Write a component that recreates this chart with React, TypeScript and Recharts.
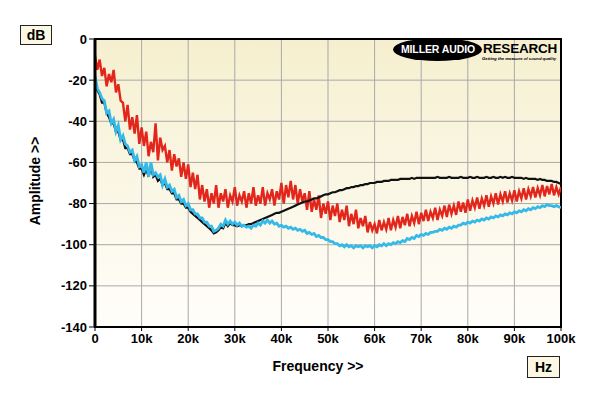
import React from 'react';
import { LineChart, Line, XAxis, YAxis, CartesianGrid, ReferenceArea } from 'recharts';

// Frequency grid in kHz (0 .. 100 kHz, FFT bins every 0.5 kHz)
const FREQ_KHZ: number[] = Array.from({ length: 201 }, (_, i) => i / 2);

const X_TICKS = [0, 10, 20, 30, 40, 50, 60, 70, 80, 90, 100];
const Y_TICKS = [0, -20, -40, -60, -80, -100, -120, -140];

// Red trace (dB)
const RED_DB = [
  -8, -15, -10, -18, -14, -23, -17, -21, -15, -26,
  -22, -30, -31, -40, -32, -44, -38, -46, -37, -51,
  -43, -52, -45, -57, -50, -55, -41, -59, -48, -54,
  -52, -60, -54, -64, -56, -62, -58, -67, -60, -68,
  -61, -72, -65, -73, -66, -78, -71, -79, -73, -82,
  -75, -80, -71, -82, -75, -79, -73, -82, -76, -79,
  -72, -81, -76, -79, -74, -82, -75, -80, -72, -81,
  -76, -80, -72, -81, -75, -78, -73, -81, -74, -78,
  -70, -80, -71, -77, -69, -78, -71, -80, -73, -79,
  -75, -83, -74, -84, -78, -83, -76, -87, -80, -85,
  -79, -88, -81, -86, -80, -89, -83, -88, -81, -91,
  -85, -90, -83, -92, -87, -91, -86, -94, -89, -93,
  -90, -94.5, -88, -93, -89, -92.5, -87, -93, -88, -91.5,
  -86, -92, -86.5, -90.5, -85, -91, -86, -89.5, -84, -90,
  -84.5, -88.5, -83, -88.5, -84, -87, -82, -88, -83, -86,
  -81, -86.5, -80.5, -85, -81, -85.5, -79, -84, -79.5, -84.5,
  -78, -83.5, -78.5, -82, -77, -82.5, -77.5, -81, -76, -81.5,
  -76.5, -80, -75, -80.5, -75.5, -79, -74, -79.5, -75, -78.5,
  -73.5, -79, -74, -77.5, -72.5, -78, -73, -76.5, -72, -77,
  -72.5, -76, -71, -76.5, -71.5, -75.5, -70.5, -76, -72, -75.5,
  -72,
];

// Cyan trace (dB)
const CYAN_DB = [
  -18, -24, -26, -29, -30, -36, -35, -41, -39, -45,
  -42, -49, -47, -51, -52, -55, -54, -59, -57, -62,
  -61, -65, -60, -67, -60, -66, -65, -67, -66, -71,
  -68, -72, -71, -74, -73, -77, -76, -79, -78, -81,
  -80, -83, -83, -85, -85, -87, -87, -89, -89, -91,
  -91, -93.5, -93, -92, -90, -91, -88, -90, -88.5, -90,
  -89, -90.5, -89.5, -91, -90.5, -91.5, -91, -92, -90.5, -91,
  -89.5, -90.5, -88.5, -89.5, -88, -89.5, -88.5, -90, -89.5, -91,
  -90.5, -91.5, -91, -92, -91.5, -92.5, -92, -93, -92.5, -93.5,
  -93, -94.5, -94, -95, -94.5, -96, -95.5, -96.5, -96.5, -97.5,
  -97.5, -98.5, -98.5, -99.5, -99.5, -100.5, -100, -101, -100, -101,
  -100.5, -101.5, -100.5, -101, -100.5, -101.5, -100.5, -101, -100.5, -101.5,
  -100.5, -101, -100, -100.5, -99.5, -100.5, -99.5, -100, -99, -99.5,
  -98.5, -99, -98, -98.5, -97, -97.5, -96.5, -97, -95.5, -96,
  -95, -95.5, -94.5, -95, -94, -94, -93.5, -93.5, -92.5, -93,
  -92, -92.5, -91.5, -92, -91, -91.5, -90.5, -90.5, -89.5, -90,
  -89, -89.5, -88.5, -89, -88, -88.5, -87.5, -88, -87, -87.5,
  -86.5, -87, -86, -86.5, -85.5, -86, -85, -85.5, -84.5, -85,
  -84, -84.5, -83.5, -84, -83, -83.5, -82.5, -83, -82, -82.5,
  -81.5, -82, -81, -81.5, -80.5, -81, -81, -81.5, -81, -81.5,
  -82,
];

// Black trace (dB)
const BLACK_DB = [
  -20, -25, -27, -31, -31, -36, -38, -41, -41, -45,
  -45, -49, -49, -53, -53, -56, -56, -59, -60, -63,
  -63, -66, -63, -67, -62, -67, -66, -69, -68, -71,
  -70, -73, -73, -75, -75, -78, -78, -80, -80, -82,
  -82, -84, -85, -86, -87, -88, -89, -90, -91, -92,
  -93, -94.5, -94, -93, -91.5, -92, -89.5, -91, -89.5, -90.5,
  -90.5, -91, -90.5, -91, -90.5, -90.5, -90, -90, -89.5, -89,
  -88.5, -88, -87.5, -87, -86.5, -86, -85.5, -85, -84.5, -84.5,
  -84, -83.5, -83, -82.5, -82, -81.5, -81, -80.5, -80, -79.5,
  -79, -79, -78.5, -78, -77.5, -77.5, -77, -76.5, -76, -75.5,
  -75.5, -75, -74.5, -74.5, -74, -73.5, -73.5, -73, -72.5, -72.5,
  -72, -72, -71.5, -71.5, -71, -71, -70.5, -70.5, -70, -70,
  -70, -69.5, -69.5, -69.5, -69, -69, -69, -68.5, -68.5, -68.5,
  -68.5, -68, -68, -68, -68, -68, -67.5, -68, -67.5, -67.5,
  -67.5, -67.5, -67.5, -67.5, -67.5, -67.5, -67.5, -67, -67.5, -67.5,
  -67.5, -67.5, -67, -67.5, -67.5, -67.5, -67.5, -67, -67.5, -67.5,
  -67.5, -67, -67.5, -67.5, -67, -67.5, -67.5, -67.5, -67, -67.5,
  -67.5, -67, -67.5, -67.5, -67, -67.5, -67, -67.5, -67.5, -67,
  -67.5, -67.5, -67.5, -67.5, -68, -67.5, -68, -68, -68, -68,
  -68.5, -68, -68.5, -68.5, -69, -69, -69, -69.5, -69.5, -70,
  -70.5,
];

const data = FREQ_KHZ.map((f, i) => ({
  f,
  red: RED_DB[i],
  cyan: CYAN_DB[i],
  black: BLACK_DB[i],
}));

const FONT = '"Liberation Sans", Arial, sans-serif';

const tickStyle = { fill: '#000', fontSize: 13, fontWeight: 700, fontFamily: FONT };

export default function App() {
  return (
    <div
      style={{
        position: 'fixed',
        left: 0,
        top: 0,
        width: 600,
        height: 396,
        background: '#ffffff',
        fontFamily: FONT,
        overflow: 'hidden',
      }}
    >
      <div style={{ position: 'absolute', left: 0, top: 0 }}>
        <LineChart
          width={600}
          height={396}
          data={data}
          margin={{ top: 39, right: 39, bottom: 39, left: 0 }}
        >
          <defs>
            <linearGradient id="plotBg" x1="0" y1="0" x2="0" y2="1">
              <stop offset="0%" stopColor="#f6efcf" />
              <stop offset="100%" stopColor="#fffefa" />
            </linearGradient>
          </defs>
          <CartesianGrid
            stroke="#a9a9a9"
            strokeWidth={1}
            fill="url(#plotBg)"
            fillOpacity={1}
            horizontalValues={Y_TICKS}
            verticalValues={X_TICKS}
          />
          <XAxis
            dataKey="f"
            type="number"
            domain={[0, 100]}
            ticks={X_TICKS}
            tickFormatter={(v: number) => (v === 0 ? '0' : `${v}k`)}
            height={30}
            tick={tickStyle}
            tickSize={4}
            tickMargin={3}
            axisLine={{ stroke: '#000', strokeWidth: 2 }}
            tickLine={{ stroke: '#000' }}
            interval={0}
            allowDataOverflow
          />
          <YAxis
            type="number"
            domain={[-140, 0]}
            ticks={Y_TICKS}
            width={95}
            tick={tickStyle}
            tickSize={6}
            tickMargin={2}
            axisLine={{ stroke: '#000', strokeWidth: 3 }}
            tickLine={{ stroke: '#000' }}
            interval={0}
            allowDataOverflow
          />
          <Line
            dataKey="red"
            stroke="#e3261b"
            strokeWidth={2.4}
            strokeLinejoin="miter"
            dot={false}
            isAnimationActive={false}
          />
          <Line
            dataKey="black"
            stroke="#111111"
            strokeWidth={2.2}
            dot={false}
            isAnimationActive={false}
          />
          <Line
            dataKey="cyan"
            stroke="#35b9e9"
            strokeWidth={2.8}
            dot={false}
            isAnimationActive={false}
          />
          <ReferenceArea
            x1={0}
            x2={100}
            y1={-140}
            y2={0}
            fill="none"
            fillOpacity={0}
            stroke="#000"
            strokeWidth={2}
            ifOverflow="visible"
          />
        </LineChart>
      </div>

      {/* dB unit box */}
      <div
        style={{
          position: 'absolute',
          left: 20,
          top: 25,
          width: 30,
          height: 18,
          border: '1.5px solid #222',
          background: '#fbf7e2',
          fontWeight: 700,
          fontSize: 14,
          lineHeight: '18px',
          textAlign: 'center',
        }}
      >
        dB
      </div>

      {/* Hz unit box */}
      <div
        style={{
          position: 'absolute',
          left: 527,
          top: 356,
          width: 31,
          height: 20,
          border: '1.5px solid #222',
          background: '#fbf7e2',
          fontWeight: 700,
          fontSize: 14,
          lineHeight: '20px',
          textAlign: 'center',
        }}
      >
        Hz
      </div>

      {/* X axis title */}
      <div
        style={{
          position: 'absolute',
          left: 218,
          top: 357,
          width: 200,
          textAlign: 'center',
          fontWeight: 700,
          fontSize: 14,
          lineHeight: '18px',
        }}
      >
        Frequency &gt;&gt;
      </div>

      {/* Y axis title */}
      <div
        style={{
          position: 'absolute',
          left: 35,
          top: 181,
          transform: 'translate(-50%, -50%) rotate(-90deg)',
          whiteSpace: 'nowrap',
          fontWeight: 700,
          fontSize: 14,
          lineHeight: '18px',
        }}
      >
        Amplitude &gt;&gt;
      </div>

      {/* Logo */}
      <div
        style={{
          position: 'absolute',
          left: 393,
          top: 38,
          width: 89,
          height: 23,
          borderRadius: '50%',
          background: '#000',
        }}
      />
      <div
        style={{
          position: 'absolute',
          left: 397,
          top: 43,
          width: 82,
          textAlign: 'center',
          color: '#fff',
          fontWeight: 900,
          fontSize: 10.5,
          lineHeight: '12px',
          letterSpacing: '-0.1px',
          whiteSpace: 'nowrap',
        }}
      >
        MILLER AUDIO
      </div>
      <div
        style={{
          position: 'absolute',
          left: 483,
          top: 41,
          color: '#000',
          fontWeight: 900,
          fontSize: 13.5,
          lineHeight: '15px',
          letterSpacing: '-0.2px',
          whiteSpace: 'nowrap',
        }}
      >
        RESEARCH
      </div>
      <div
        style={{
          position: 'absolute',
          left: 482,
          top: 56,
          color: '#000',
          fontWeight: 700,
          fontStyle: 'italic',
          fontSize: 4.3,
          lineHeight: '5px',
          letterSpacing: '-0.05px',
          whiteSpace: 'nowrap',
        }}
      >
        Getting the measure of sound quality
      </div>
    </div>
  );
}
